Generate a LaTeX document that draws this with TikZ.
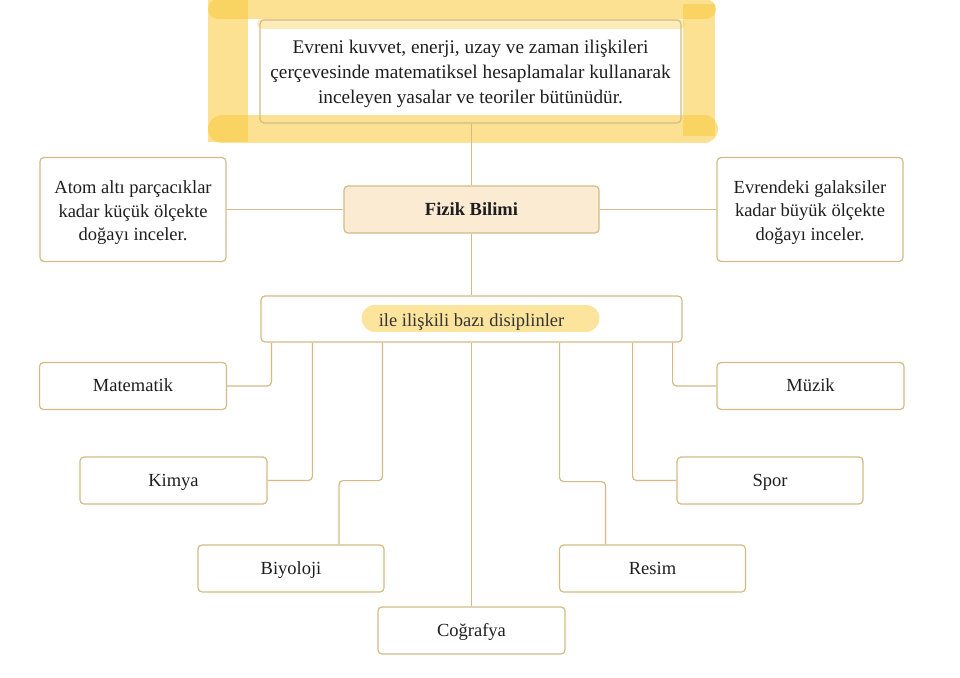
\documentclass[tikz,border=0pt]{standalone}
\usepackage{fontspec}
\setmainfont{Liberation Serif}
\definecolor{boxline}{HTML}{D3BB85}
\definecolor{fizfill}{HTML}{FCEBD3}
\definecolor{marker}{HTML}{F9C93A}
\definecolor{txt}{HTML}{1E1E1E}
\tikzset{
  card/.style={draw=boxline, line width=1.2pt, rounded corners=4pt, align=center,
    text=txt, inner sep=0pt, font=\fontsize{18.5}{24.5}\selectfont,
    text height=15pt, text depth=4pt},
  box/.style={draw=boxline, line width=1.2pt, rounded corners=4pt, inner sep=0pt},
  words/.style={align=center, text=txt, inner sep=0pt},
  link/.style={draw=boxline, line width=1.2pt, rounded corners=4pt},
  hl/.style={draw=marker, opacity=0.55, line cap=round}
}
\begin{document}
\begin{tikzpicture}[x=1pt,y=-1pt]
\useasboundingbox (0,0) rectangle (960,677);
% marker highlight around the definition box
\draw[hl, line width=40pt, line cap=butt] (228,0) -- (228,142);
\draw[hl, line width=20pt] (218,9) -- (706,9);
\draw[hl, line width=28pt] (222,129) -- (704,129);
\draw[hl, line width=32pt, line cap=butt] (699,4) -- (699,136);
\draw[hl, line width=10pt, opacity=0.35] (262,24) -- (680,24);
% marker highlight under "ile ilişkili"
\draw[hl, line width=27pt, opacity=0.5] (375,318) -- (586,318);

\node[box, minimum width=421pt, minimum height=103pt] (top) at (470.5,71.5) {};
\node[words, font=\fontsize{19.3}{25}\selectfont] (topT) at (470.5,74) {Evreni kuvvet, enerji, uzay ve zaman ilişkileri\\
   çerçevesinde matematiksel hesaplamalar kullanarak\\
   inceleyen yasalar ve teoriler bütünüdür.};
\node[box, minimum width=186pt, minimum height=104pt] (left) at (133,209.5) {};
\node[words, font=\fontsize{18.5}{23.5}\selectfont] (leftT) at (133,213)
  {Atom altı parçacıklar\\kadar küçük ölçekte\\doğayı inceler.};
\node[card, fill=fizfill, minimum width=255pt, minimum height=47pt, font=\fontsize{18.5}{24.5}\selectfont\bfseries, text height=16pt, text depth=4pt] (fiz) at (471.5,209.5) {Fizik Bilimi};
\node[box, minimum width=186pt, minimum height=104pt] (right) at (810,209.5) {};
\node[words, font=\fontsize{18.5}{23.5}\selectfont] (rightT) at (810,212.5)
  {Evrendeki galaksiler\\kadar büyük ölçekte\\doğayı inceler.};
\node[card, minimum width=421pt, minimum height=46pt, text=black!80, text height=17pt, text depth=3pt] (ile) at (471.5,319) {ile ilişkili bazı disiplinler};
\node[card, minimum width=187pt, minimum height=47pt] (mat) at (133,386) {Matematik};
\node[card, minimum width=187pt, minimum height=47pt] (muz) at (810.5,386) {Müzik};
\node[card, minimum width=187pt, minimum height=47pt] (kim) at (173.5,480.5) {Kimya};
\node[card, minimum width=186pt, minimum height=47pt] (spor) at (770,480.5) {Spor};
\node[card, minimum width=186pt, minimum height=47pt] (biy) at (291,568.5) {Biyoloji};
\node[card, minimum width=186pt, minimum height=47pt] (res) at (652.5,568.5) {Resim};
\node[card, minimum width=187pt, minimum height=47pt] (cog) at (471.5,630.5) {Coğrafya};

\draw[link] (fiz.north |- top.south) -- (fiz.north);
\draw[link] (left.east) -- (fiz.west);
\draw[link] (fiz.east) -- (right.west);
\draw[link] (fiz.south) -- (ile.north);
\draw[link] ([xshift=11pt]ile.south west) |- (mat.east);
\draw[link] ([xshift=52pt]ile.south west) |- (kim.east);
\draw[link] ([xshift=122pt]ile.south west) -- ++(0,138) -| ([xshift=48pt]biy.north);
\draw[link] (ile.south) -- (cog.north);
\draw[link] ([xshift=-123pt]ile.south east) -- ++(0,139) -| ([xshift=-47pt]res.north);
\draw[link] ([xshift=-50pt]ile.south east) |- (spor.west);
\draw[link] ([xshift=-10pt]ile.south east) |- (muz.west);
\end{tikzpicture}
\end{document}
